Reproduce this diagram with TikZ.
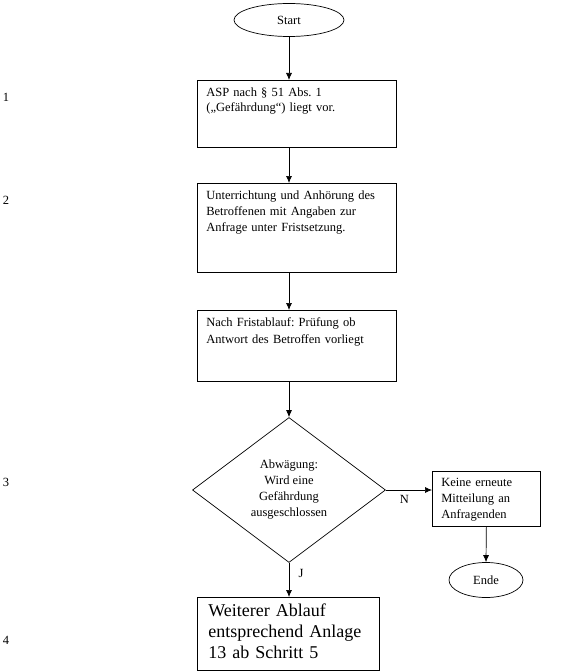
\documentclass[tikz,border=0pt]{standalone}
\usepackage{fontspec}
\setmainfont{Liberation Serif}
\usetikzlibrary{shapes.geometric,arrows.meta}

\begin{document}
\frenchspacing
\begin{tikzpicture}[x=1pt,y=1pt,font=\fontsize{12.5}{15}\selectfont,line width=0.7pt,
              >={Latex[length=7pt,width=6pt]},
              stepbox/.style={draw,rectangle,anchor=north west,align=left,inner xsep=9pt,inner ysep=6pt,text height=10pt},
              terminal/.style={draw,ellipse,inner sep=0pt},
              decision/.style={draw,diamond,inner sep=0pt,align=center,minimum width=193pt,minimum height=145pt}]
              \useasboundingbox (0,0) rectangle (575,-671);
              % Schrittnummern
              \node (n1) at (6,-97) {1};
              \node (n2) at (6,-200) {2};
              \node (n3) at (6,-482) {3};
              \node (n4) at (6,-640) {4};
              % Ablauf
              \node[terminal,minimum width=110pt,minimum height=33pt] (start) at (289,-20) {Start};
              \node[stepbox,text width=181pt,text depth=45pt] (s1) at (197,-80)
                {ASP nach § 51 Abs. 1\\(„Gefährdung“) liegt vor.};
              \node[stepbox,text width=181pt,text depth=67pt,font=\fontsize{12.5}{16}\selectfont] (s2) at (197,-183)
                {Unterrichtung und Anhörung des\\Betroffenen mit Angaben zur\\Anfrage unter Fristsetzung.};
              \node[stepbox,text width=181pt,text depth=49pt,font=\fontsize{12.5}{17}\selectfont] (s3) at (197,-310)
                {Nach Fristablauf: Prüfung ob\\Antwort des Betroffen vorliegt};
              \node[decision,font=\fontsize{12.5}{16}\selectfont] (abw) at (289,-490)
                {Abwägung:\\Wird eine\\Gefährdung\\ausgeschlossen};
              \node[stepbox,text width=90pt,text height=9pt,text depth=34pt,font=\fontsize{12.5}{16}\selectfont] (keine) at (432,-471)
                {Keine erneute\\Mitteilung an\\Anfragenden};
              \node[terminal,minimum width=74pt,minimum height=35pt] (ende) at (486,-580) {Ende};
              \node[stepbox,inner xsep=11pt,text width=160pt,text height=13pt,text depth=48pt,font=\fontsize{18}{21}\selectfont] (s4) at (197,-597)
                {Weiterer Ablauf\\entsprechend Anlage\\13 ab Schritt 5};
              % Pfeile
              \draw[->] (start.south) -- (start.south |- s1.north);
              \draw[->] (s1.south -| start) -- (s2.north -| start);
              \draw[->] (s2.south -| start) -- (s3.north -| start);
              \draw[->] (s3.south -| abw) -- (abw.north);
              \draw[->] (abw.east) -- node[pos=0.4,below=2pt] (lN) {N} (abw.east -| keine.west);
              \draw[->] (keine.south) -- (ende.north);
              \draw[->] (abw.south) -- node[pos=0.3,right=6pt] (lJ) {J} (abw.south |- s4.north);
            \end{tikzpicture}
\end{document}
